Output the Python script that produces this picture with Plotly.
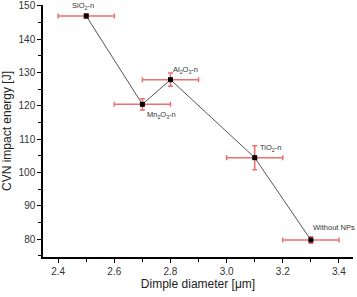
import plotly.graph_objects as go

labels = ["SiO<sub>2</sub>-n", "Mn<sub>2</sub>O<sub>3</sub>-n", "Al<sub>2</sub>O<sub>3</sub>-n", "TiO<sub>2</sub>-n", "Without NPs"]
dimple = [2.5, 2.7, 2.8, 3.1, 3.3]
energy = [146.9, 120.4, 127.8, 104.4, 79.7]
dimple_err = [0.1, 0.1, 0.1, 0.1, 0.1]
energy_err = [0.7, 1.7, 2.0, 3.6, 1.0]

err_color = "rgb(240,110,110)"

fig = go.Figure()
fig.add_trace(go.Scatter(
    x=dimple, y=energy, mode="lines+markers",
    line=dict(color="#555555", width=1),
    marker=dict(symbol="square", size=5, color="black"),
    error_x=dict(type="data", array=dimple_err, color=err_color, thickness=1.5, width=2.5),
    error_y=dict(type="data", array=energy_err, color=err_color, thickness=1.5, width=2.5),
    showlegend=False, cliponaxis=False,
))

# label placement: (xanchor, yanchor, xshift, yshift)
placement = [
    ("center", "bottom", -3, 3),
    ("left", "top", 3, -4),
    ("left", "bottom", 1, 3),
    ("left", "bottom", 3, 3),
    ("left", "bottom", 0, 6),
]
for lab, x, y, (xa, ya, xs, ys) in zip(labels, dimple, energy, placement):
    fig.add_annotation(x=x, y=y, text=lab, showarrow=False, xanchor=xa, yanchor=ya,
                       xshift=xs, yshift=ys, font=dict(size=7.5, color="#333333", family="Liberation Sans, Arial"))

axis_common = dict(
    showline=True, linecolor="black", linewidth=1.5, mirror=False,
    ticks="outside", ticklen=4, tickwidth=1.2, tickcolor="black",
    showgrid=False, zeroline=False, automargin=False,
    tickfont=dict(size=10, color="#333333", family="Liberation Sans, Arial"),
)
fig.update_xaxes(range=[2.346, 3.45], tick0=2.4, dtick=0.2, tickformat=".1f",
                 minor=dict(dtick=0.1, ticks="outside", ticklen=3, tickcolor="black", tickwidth=1.2),
                 title=dict(text="Dimple diameter [μm]", font=dict(size=12, color="#222222", family="Liberation Sans, Arial"), standoff=4),
                 **axis_common)
fig.update_yaxes(range=[74.6, 150.2], tick0=80, dtick=10,
                 minor=dict(dtick=5, ticks="outside", ticklen=3, tickcolor="black", tickwidth=1.2),
                 title=dict(text="CVN impact energy [J]", font=dict(size=12, color="#222222", family="Liberation Sans, Arial"), standoff=6),
                 **axis_common)
fig.update_layout(width=357, height=297, margin=dict(l=43, r=4, t=5, b=40),
                  plot_bgcolor="white", paper_bgcolor="white")
fig.write_html("out.html", config={"displayModeBar": False},
               post_script="document.body.style.margin='0';document.body.style.overflow='hidden';")
